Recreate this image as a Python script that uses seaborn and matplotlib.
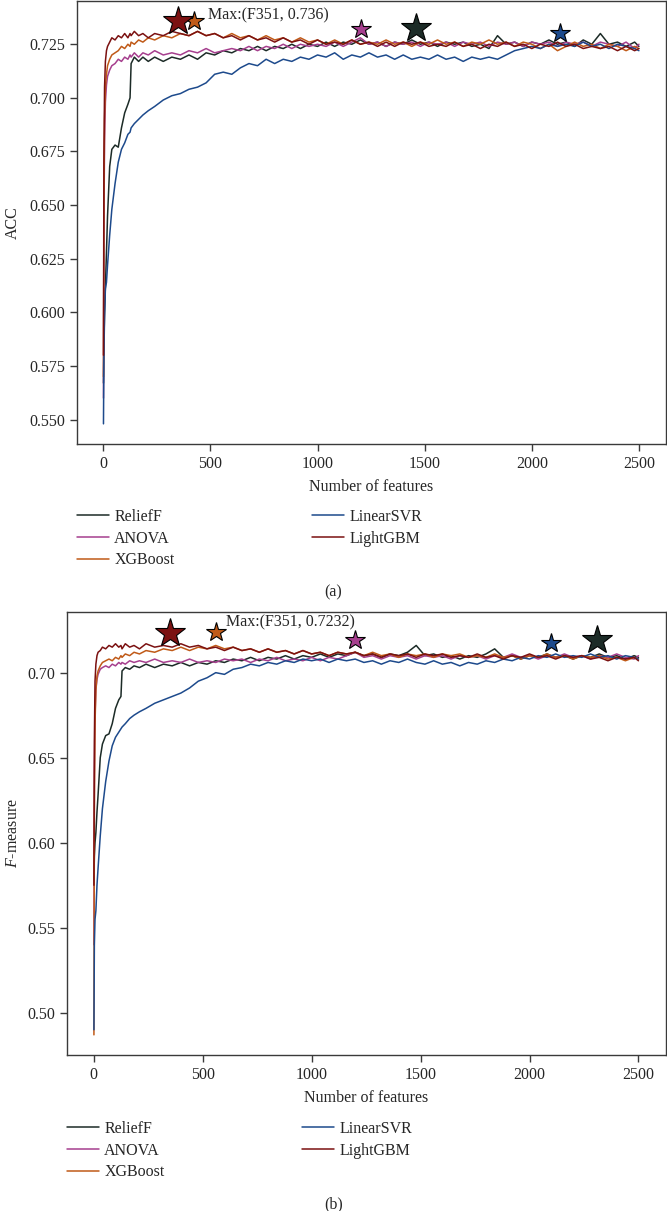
import matplotlib
matplotlib.use('Agg')
import pandas as pd
import matplotlib.pyplot as plt
import seaborn as sns

# number of selected features (sample points)
n_features = [1, 3, 6, 10, 15, 20, 30, 40, 55, 70,
              85, 100, 115, 125, 130, 145, 165, 185, 210, 240,
              280, 320, 360, 400, 440, 480, 520, 560, 600, 640,
              680, 720, 760, 800, 840, 880, 920, 960, 1000, 1040,
              1080, 1120, 1160, 1200, 1240, 1280, 1320, 1360, 1400, 1440,
              1480, 1520, 1560, 1600, 1640, 1680, 1720, 1760, 1800, 1840,
              1880, 1920, 1960, 2000, 2040, 2080, 2120, 2160, 2200, 2240,
              2280, 2320, 2360, 2400, 2440, 2480, 2500]

methods = ['ReliefF', 'ANOVA', 'XGBoost', 'LinearSVR', 'LightGBM']
colors = ['#1c2b27', '#a63f8e', '#c05a18', '#1d4a8c', '#7b1111']

# (a) ACC
acc_relieff = [0.567, 0.585, 0.600, 0.612, 0.628, 0.645, 0.668, 0.676, 0.678, 0.677,
               0.686, 0.693, 0.697, 0.700, 0.716, 0.719, 0.717, 0.719, 0.717, 0.719,
               0.717, 0.719, 0.718, 0.720, 0.718, 0.721, 0.720, 0.722, 0.721, 0.723,
               0.722, 0.724, 0.722, 0.724, 0.723, 0.725, 0.723, 0.725, 0.724, 0.726,
               0.724, 0.726, 0.725, 0.727, 0.725, 0.726, 0.724, 0.726, 0.725, 0.727,
               0.725, 0.726, 0.724, 0.726, 0.725, 0.726, 0.724, 0.725, 0.723, 0.729,
               0.725, 0.726, 0.724, 0.726, 0.725, 0.727, 0.725, 0.726, 0.724, 0.727,
               0.725, 0.730, 0.725, 0.726, 0.724, 0.726, 0.724]
acc_anova = [0.560, 0.640, 0.680, 0.698, 0.706, 0.710, 0.713, 0.715, 0.716, 0.718,
             0.717, 0.719, 0.718, 0.720, 0.719, 0.721, 0.719, 0.721, 0.720, 0.722,
             0.720, 0.721, 0.720, 0.722, 0.721, 0.723, 0.721, 0.722, 0.723, 0.722,
             0.724, 0.722, 0.724, 0.723, 0.725, 0.723, 0.725, 0.724, 0.725, 0.724,
             0.726, 0.724, 0.726, 0.728, 0.725, 0.726, 0.724, 0.726, 0.725, 0.726,
             0.724, 0.726, 0.725, 0.726, 0.724, 0.726, 0.725, 0.726, 0.724, 0.726,
             0.725, 0.726, 0.724, 0.726, 0.725, 0.726, 0.724, 0.726, 0.725, 0.726,
             0.724, 0.726, 0.725, 0.724, 0.726, 0.723, 0.725]
acc_xgboost = [0.570, 0.650, 0.690, 0.705, 0.711, 0.715, 0.718, 0.720, 0.721, 0.722,
               0.724, 0.723, 0.725, 0.724, 0.726, 0.725, 0.727, 0.726, 0.728, 0.727,
               0.729, 0.728, 0.730, 0.729, 0.731, 0.729, 0.730, 0.728, 0.730, 0.728,
               0.729, 0.727, 0.729, 0.727, 0.728, 0.726, 0.728, 0.726, 0.727, 0.725,
               0.727, 0.725, 0.727, 0.725, 0.726, 0.725, 0.727, 0.725, 0.726, 0.724,
               0.726, 0.725, 0.727, 0.725, 0.726, 0.724, 0.726, 0.725, 0.727, 0.725,
               0.726, 0.724, 0.726, 0.725, 0.723, 0.725, 0.722, 0.724, 0.726, 0.724,
               0.725, 0.723, 0.725, 0.724, 0.722, 0.724, 0.723]
acc_linearsvr = [0.548, 0.580, 0.598, 0.611, 0.614, 0.622, 0.636, 0.648, 0.660, 0.670,
                 0.676, 0.679, 0.683, 0.684, 0.686, 0.688, 0.690, 0.692, 0.694, 0.696,
                 0.699, 0.701, 0.702, 0.704, 0.705, 0.707, 0.711, 0.712, 0.711, 0.714,
                 0.716, 0.715, 0.718, 0.716, 0.718, 0.717, 0.719, 0.718, 0.720, 0.719,
                 0.721, 0.718, 0.720, 0.719, 0.721, 0.719, 0.720, 0.718, 0.720, 0.718,
                 0.719, 0.718, 0.720, 0.718, 0.719, 0.717, 0.719, 0.718, 0.719, 0.718,
                 0.720, 0.722, 0.723, 0.724, 0.723, 0.725, 0.724, 0.725, 0.724, 0.726,
                 0.724, 0.725, 0.723, 0.725, 0.724, 0.723, 0.722]
acc_lightgbm = [0.580, 0.670, 0.705, 0.717, 0.722, 0.724, 0.726, 0.728, 0.727, 0.729,
                0.728, 0.730, 0.728, 0.730, 0.729, 0.731, 0.729, 0.730, 0.728, 0.730,
                0.729, 0.731, 0.730, 0.729, 0.731, 0.729, 0.730, 0.728, 0.729, 0.727,
                0.729, 0.727, 0.728, 0.726, 0.728, 0.726, 0.727, 0.725, 0.727, 0.725,
                0.726, 0.725, 0.727, 0.725, 0.726, 0.724, 0.726, 0.724, 0.726, 0.725,
                0.726, 0.724, 0.725, 0.724, 0.726, 0.724, 0.725, 0.723, 0.725, 0.724,
                0.726, 0.724, 0.725, 0.723, 0.725, 0.724, 0.726, 0.724, 0.725, 0.723,
                0.724, 0.723, 0.724, 0.722, 0.724, 0.722, 0.723]

# (b) F-measure
f_relieff = [0.578, 0.592, 0.600, 0.606, 0.618, 0.628, 0.650, 0.658, 0.663, 0.664,
             0.670, 0.679, 0.684, 0.686, 0.701, 0.703, 0.702, 0.704, 0.703, 0.705,
             0.703, 0.705, 0.704, 0.706, 0.704, 0.706, 0.705, 0.707, 0.706, 0.708,
             0.707, 0.709, 0.707, 0.709, 0.708, 0.710, 0.708, 0.710, 0.709, 0.711,
             0.709, 0.711, 0.710, 0.712, 0.710, 0.711, 0.709, 0.711, 0.710, 0.712,
             0.716, 0.710, 0.711, 0.709, 0.710, 0.708, 0.710, 0.709, 0.711, 0.714,
             0.709, 0.710, 0.708, 0.710, 0.709, 0.711, 0.709, 0.710, 0.708, 0.710,
             0.709, 0.711, 0.709, 0.710, 0.708, 0.710, 0.709]
f_anova = [0.540, 0.640, 0.675, 0.690, 0.696, 0.699, 0.702, 0.703, 0.704, 0.703,
           0.705, 0.704, 0.706, 0.705, 0.706, 0.705, 0.707, 0.706, 0.707, 0.706,
           0.708, 0.706, 0.707, 0.706, 0.708, 0.706, 0.707, 0.706, 0.708, 0.707,
           0.708, 0.706, 0.708, 0.707, 0.709, 0.707, 0.708, 0.707, 0.709, 0.707,
           0.709, 0.708, 0.710, 0.712, 0.709, 0.710, 0.708, 0.710, 0.709, 0.710,
           0.708, 0.710, 0.709, 0.710, 0.708, 0.710, 0.709, 0.710, 0.708, 0.710,
           0.709, 0.711, 0.709, 0.710, 0.708, 0.710, 0.709, 0.711, 0.709, 0.710,
           0.708, 0.710, 0.709, 0.711, 0.709, 0.708, 0.710]
f_xgboost = [0.487, 0.620, 0.670, 0.690, 0.698, 0.701, 0.704, 0.706, 0.707, 0.708,
             0.707, 0.709, 0.708, 0.710, 0.709, 0.711, 0.710, 0.712, 0.711, 0.713,
             0.712, 0.714, 0.713, 0.715, 0.713, 0.715, 0.714, 0.716, 0.714, 0.715,
             0.713, 0.714, 0.712, 0.714, 0.712, 0.713, 0.711, 0.713, 0.711, 0.712,
             0.710, 0.712, 0.711, 0.712, 0.710, 0.712, 0.710, 0.711, 0.709, 0.711,
             0.710, 0.711, 0.709, 0.711, 0.710, 0.711, 0.709, 0.710, 0.709, 0.711,
             0.709, 0.710, 0.708, 0.710, 0.709, 0.711, 0.709, 0.710, 0.708, 0.710,
             0.709, 0.710, 0.708, 0.709, 0.707, 0.709, 0.708]
f_linearsvr = [0.490, 0.540, 0.555, 0.560, 0.575, 0.585, 0.604, 0.620, 0.636, 0.648,
               0.657, 0.662, 0.665, 0.667, 0.668, 0.670, 0.673, 0.675, 0.677, 0.679,
               0.682, 0.684, 0.686, 0.688, 0.691, 0.695, 0.697, 0.700, 0.699, 0.702,
               0.703, 0.705, 0.704, 0.706, 0.705, 0.707, 0.706, 0.708, 0.707, 0.708,
               0.706, 0.708, 0.707, 0.708, 0.706, 0.707, 0.705, 0.707, 0.706, 0.708,
               0.706, 0.705, 0.707, 0.705, 0.706, 0.704, 0.706, 0.705, 0.707, 0.706,
               0.708, 0.707, 0.709, 0.708, 0.710, 0.709, 0.711, 0.709, 0.710, 0.709,
               0.711, 0.709, 0.710, 0.708, 0.710, 0.709, 0.708]
f_lightgbm = [0.575, 0.660, 0.695, 0.705, 0.710, 0.712, 0.713, 0.715, 0.714, 0.716,
              0.715, 0.717, 0.715, 0.716, 0.714, 0.717, 0.715, 0.716, 0.714, 0.717,
              0.715, 0.716, 0.715, 0.717, 0.715, 0.716, 0.714, 0.715, 0.713, 0.715,
              0.713, 0.714, 0.712, 0.714, 0.712, 0.713, 0.711, 0.713, 0.711, 0.712,
              0.710, 0.712, 0.711, 0.712, 0.710, 0.711, 0.709, 0.711, 0.710, 0.711,
              0.709, 0.711, 0.710, 0.711, 0.709, 0.710, 0.709, 0.711, 0.709, 0.710,
              0.708, 0.710, 0.709, 0.711, 0.709, 0.710, 0.708, 0.710, 0.709, 0.710,
              0.708, 0.709, 0.707, 0.709, 0.708, 0.709, 0.707]

# best point of every method (star markers), same order as methods
acc_best_x = [1461, 1203, 422, 2131, 351]
acc_best_y = [0.7327, 0.7319, 0.7358, 0.7304, 0.736]
f_best_x = [2309, 1197, 559, 2100, 351]
f_best_y = [0.7191, 0.7191, 0.7240, 0.7172, 0.7232]
star_sizes = [22, 15, 15, 15, 22]

acc_yticks = [0.550, 0.575, 0.600, 0.625, 0.650, 0.675, 0.700, 0.725]
f_yticks = [0.50, 0.55, 0.60, 0.65, 0.70]
xticks = [0, 500, 1000, 1500, 2000, 2500]

sns.set_style('ticks')
plt.rcParams['font.family'] = ['Liberation Serif', 'DejaVu Serif']
plt.rcParams['mathtext.fontset'] = 'custom'
plt.rcParams['mathtext.rm'] = 'Liberation Serif'
plt.rcParams['mathtext.it'] = 'Liberation Serif:italic'
plt.rcParams['font.size'] = 11.5

fig = plt.figure(figsize=(6.67, 12.11), dpi=100)
W, H = 667, 1211


def make_frame(series):
    rows = []
    for m, vals in zip(methods, series):
        for n, v in zip(n_features, vals):
            rows.append((n, v, m))
    return pd.DataFrame(rows, columns=['n', 'value', 'method'])


panels = [
    dict(series=[acc_relieff, acc_anova, acc_xgboost, acc_linearsvr, acc_lightgbm],
         bx=acc_best_x, by=acc_best_y, yticks=acc_yticks, fmt='{:.3f}', ylabel='ACC',
         box=(76.7, 0.5, 665.7, 444), note='Max:(F351, 0.736)', note_xy=(488, 0.7386),
         leg_top=509, tag='(a)', tag_y=592),
    dict(series=[f_relieff, f_anova, f_xgboost, f_linearsvr, f_lightgbm],
         bx=f_best_x, by=f_best_y, yticks=f_yticks, fmt='{:.2f}', ylabel='$F$-measure',
         box=(66.7, 611.7, 665.7, 1055), note='Max:(F351, 0.7232)', note_xy=(606, 0.7298),
         leg_top=1121, tag='(b)', tag_y=1204),
]

for p in panels:
    l, t, r, b = p['box']
    ax = fig.add_axes([l / W, 1 - b / H, (r - l) / W, (b - t) / H])
    df = make_frame(p['series'])
    sns.lineplot(data=df, x='n', y='value', hue='method', hue_order=methods,
                 palette=dict(zip(methods, colors)), estimator=None, sort=False,
                 linewidth=1.1, legend=False, ax=ax)
    line_handles = list(ax.lines[:5])

    for bx, by, c, ms in zip(p['bx'], p['by'], colors, star_sizes):
        ax.plot([bx], [by], marker='*', ms=ms, color=c, mec='black', mew=0.8,
                linestyle='none', zorder=5)
    ax.text(p['note_xy'][0], p['note_xy'][1], p['note'], ha='left', va='center', fontsize=11.5)

    ax.set_xticks(xticks)
    ax.set_yticks(p['yticks'])
    ax.set_yticklabels([p['fmt'].format(v) for v in p['yticks']])
    ax.set_xlabel('Number of features')
    ax.set_ylabel(p['ylabel'])
    ax.xaxis.set_label_coords(0.5, -0.078)
    ax.yaxis.set_label_coords((21 - l) / (r - l), 0.5)

    for s in ax.spines.values():
        s.set_color('#3a3a3a')
        s.set_linewidth(1.0)
    ax.tick_params(direction='out', length=5, width=1, pad=3.5, color='#3a3a3a',
                   labelsize=11.5, top=False, right=False)

    ax.legend(line_handles, methods, loc='upper left', ncol=2, frameon=False,
              bbox_to_anchor=(l / W, 1 - p['leg_top'] / H), bbox_transform=fig.transFigure,
              borderpad=0, borderaxespad=0, handlelength=2.0, handletextpad=0.35,
              labelspacing=0.35, columnspacing=8.6, fontsize=11.5)

    fig.text(0.5, 1 - p['tag_y'] / H, p['tag'], ha='center', va='center', fontsize=11.5)

fig.savefig('out.png', dpi=100)
